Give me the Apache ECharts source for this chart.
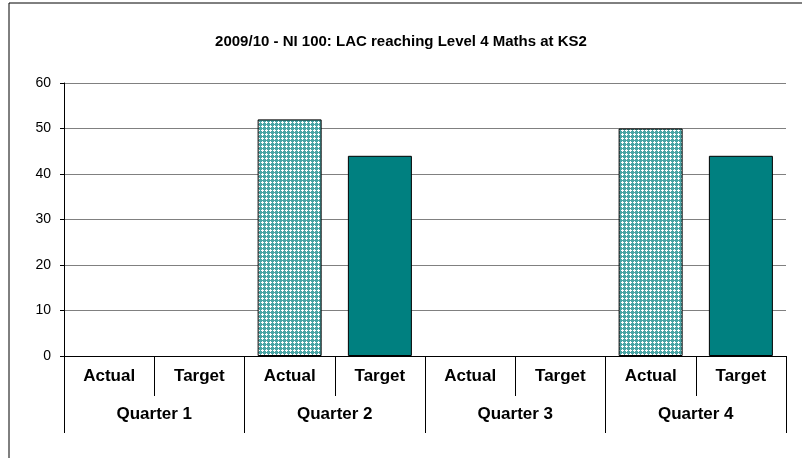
<!DOCTYPE html>
<html>
<head>
<meta charset="utf-8">
<script src="https://cdn.jsdelivr.net/npm/echarts@6/dist/echarts.min.js"></script>
<style>
	html, body { margin: 0; padding: 0; background: #fff; }
	#chart { width: 802px; height: 458px; }
</style>
</head>
<body>
<div id="chart"></div>
<script>
var quarters = ['Quarter 1', 'Quarter 2', 'Quarter 3', 'Quarter 4'];
var subLabels = ['Actual', 'Target'];
var actualValues = [null, 52, null, 50];
var targetValues = [null, 44, null, 44];

// 8 slots: Actual / Target for every quarter
var slotLabels = [],
	actualData = [],
	targetData = [];
quarters.forEach(function(q, i) {
	slotLabels.push(subLabels[0], subLabels[1]);
	actualData.push(actualValues[i] == null ? '-' : actualValues[i], '-');
	targetData.push('-', targetValues[i] == null ? '-' : targetValues[i]);
});

// small hatch pattern for the Actual bars
function makePattern() {
	var c = document.createElement('canvas');
	c.width = 4;
	c.height = 4;
	var ctx = c.getContext('2d');
	ctx.fillStyle = '#4aa5a5';
	ctx.fillRect(0, 0, 4, 4);
	ctx.fillStyle = '#ffffff';
	ctx.fillRect(2, 1, 1, 3); // plus shape
	ctx.fillRect(1, 2, 3, 1);
	return c;
}

var font = 'Liberation Sans, Arial, sans-serif';
var chart = echarts.init(document.getElementById('chart'));
chart.setOption({
	animation: false,
	title: {
		text: '2009/10 - NI 100: LAC reaching Level 4 Maths at KS2',
		left: 'center',
		top: 29,
		textStyle: { fontFamily: font, fontSize: 15, fontWeight: 'bold', color: '#000' }
	},
	graphic: [{
		type: 'rect',
		shape: { x: 9, y: 3, width: 820, height: 480 },
		style: { fill: 'none', stroke: '#000', lineWidth: 1 },
		silent: true
	}],
	grid: { left: 64, right: 16, top: 83, bottom: 102 },
	xAxis: [{
		type: 'category',
		data: slotLabels,
		axisLine: { lineStyle: { color: '#000', width: 1 } },
		axisTick: { show: true, length: 40, lineStyle: { color: '#000' } },
		axisLabel: { margin: 12, fontFamily: font, fontSize: 17, fontWeight: 'bold', color: '#000', interval: 0 }
	}, {
		type: 'category',
		position: 'bottom',
		data: quarters,
		axisLine: { show: false },
		axisTick: { show: true, length: 77, lineStyle: { color: '#000' } },
		axisLabel: { margin: 50, fontFamily: font, fontSize: 17, fontWeight: 'bold', color: '#000', interval: 0 }
	}],
	yAxis: {
		type: 'value',
		min: 0,
		max: 60,
		interval: 10,
		axisLine: { show: true, lineStyle: { color: '#000' } },
		axisTick: { show: true, length: 4, lineStyle: { color: '#000' } },
		axisLabel: { margin: 13, fontFamily: font, fontSize: 14, color: '#000' },
		splitLine: { lineStyle: { color: '#808080', width: 1 } }
	},
	series: [{
		name: 'Actual',
		type: 'bar',
		data: actualData,
		barWidth: 64,
		barGap: '-100%',
		itemStyle: {
			color: { image: makePattern(), repeat: 'repeat' },
			borderColor: '#000',
			borderWidth: 1
		}
	}, {
		name: 'Target',
		type: 'bar',
		data: targetData,
		barWidth: 64,
		barGap: '-100%',
		itemStyle: { color: '#008080', borderColor: '#000', borderWidth: 1 }
	}]
});
</script>
</body>
</html>
